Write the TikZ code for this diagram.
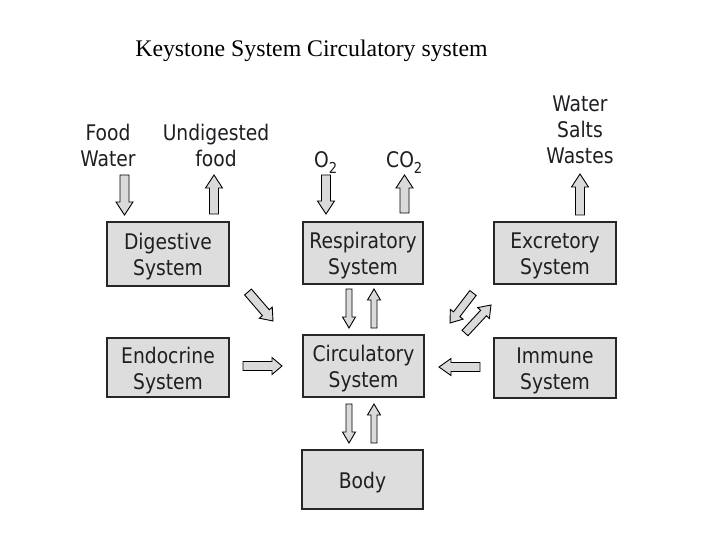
\documentclass[tikz,border=0pt]{standalone}
\usepackage{fontspec}
\setmainfont{Liberation Serif}
\newfontfamily\diafont[FakeStretch=0.87]{DejaVu Sans}
\usetikzlibrary{calc}
\definecolor{boxfill}{RGB}{221,221,221}
\definecolor{arrfill}{RGB}{218,218,218}
\definecolor{txt}{RGB}{30,30,35}
\newcommand{\tst}{\rule{0pt}{22pt}}
\newcommand{\blockarr}[5]{%
  \coordinate (bhd) at ($(#2)!#5!(#1)$);
  \draw[blk] ($(#1)!#3!90:(#2)$) -- ($(bhd)!#3!90:(#2)$) -- ($(bhd)!#4!90:(#2)$) -- (#2)
    -- ($(bhd)!#4!-90:(#2)$) -- ($(bhd)!#3!-90:(#2)$) -- ($(#1)!#3!-90:(#2)$) -- cycle;}
\begin{document}
\begin{tikzpicture}[x=1pt,y=-1pt,
  sysbox/.style={draw=black!85, line width=1.2pt, fill=boxfill, inner sep=0pt, align=center,
    text=txt, font=\diafont\fontsize{21.5}{26}\selectfont},
  lbl/.style={inner sep=0pt, align=center, text=txt, font=\diafont\fontsize{21.5}{26}\selectfont},
  blk/.style={draw=black, line width=0.9pt, fill=arrfill, line join=miter}]
\useasboundingbox (0,0) rectangle (720,540);
\fill[white] (0,0) rectangle (720,540);
% title
\node[anchor=base, inner sep=0pt, font=\fontsize{23.8}{28}\selectfont] (title) at (311.5,57) {Keystone System Circulatory system};
% boxes
\node[sysbox, minimum width=122pt, minimum height=64pt] (dig) at (168,254) {\tst Digestive\\System};
\node[sysbox, minimum width=120pt, minimum height=62pt] (resp) at (363,253) {\tst Respiratory\\System};
\node[sysbox, minimum width=122pt, minimum height=62pt] (exc) at (555,253) {\tst Excretory\\System};
\node[sysbox, minimum width=122pt, minimum height=59pt] (endo) at (168,367.5) {\tst Endocrine\\System};
\node[sysbox, minimum width=121pt, minimum height=62pt] (circ) at (363.5,366) {\tst Circulatory\\System};
\node[sysbox, minimum width=122pt, minimum height=60pt] (imm) at (555,368) {\tst Immune\\System};
\node[sysbox, minimum width=121pt, minimum height=59pt] (body) at (362.5,479.5) {\tst Body};
% labels
\node[lbl] (fw) at (108,145) {Food\\Water};
\node[lbl] (ud) at (216,145) {Undigested\\food};
\node[lbl, anchor=base] (o2) at (326,168) {O\raisebox{-1.5pt}{\textsubscript{2}}};
\node[lbl, anchor=base] (co2) at (404.5,168) {CO\raisebox{-1.5pt}{\textsubscript{2}}};
\node[lbl] (sw) at (580,130) {Water\\Salts\\Wastes};
% arrow end points
\coordinate (fwS) at (124.5,175);  \coordinate (fwE) at (124.5,215);
\coordinate (udS) at (214,214);    \coordinate (udE) at (214,175);
\coordinate (o2S) at (326,175);    \coordinate (o2E) at (326,214);
\coordinate (co2S) at (404.5,213); \coordinate (co2E) at (404.5,175);
\coordinate (exS) at (580,215);    \coordinate (exE) at (580,174);
\coordinate (dcS) at (248,292);    \coordinate (dcE) at (273,321);
\coordinate (rcS) at (349,289);    \coordinate (rcE) at (349,328);
\coordinate (crS) at (374,328);    \coordinate (crE) at (374,289);
\coordinate (ecS) at (473,293);    \coordinate (ecE) at (450,323);
\coordinate (ceS) at (465,333);    \coordinate (ceE) at (491,305);
\coordinate (enS) at (243,366);    \coordinate (enE) at (282,366);
\coordinate (imS) at (480,367);    \coordinate (imE) at (439,367);
\coordinate (cbS) at (349,404);    \coordinate (cbE) at (349,443);
\coordinate (bcS) at (374,443);    \coordinate (bcE) at (374,404);
% arrows
\blockarr{fwS}{fwE}{4.5pt}{8.5pt}{13pt}
\blockarr{udS}{udE}{4.5pt}{8.5pt}{13pt}
\blockarr{o2S}{o2E}{4.5pt}{8.5pt}{13pt}
\blockarr{co2S}{co2E}{4.5pt}{8.5pt}{13pt}
\blockarr{exS}{exE}{4.5pt}{8.5pt}{13pt}
\blockarr{dcS}{dcE}{4.5pt}{8.5pt}{11pt}
\blockarr{rcS}{rcE}{3pt}{6.5pt}{11pt}
\blockarr{crS}{crE}{3pt}{6.5pt}{11pt}
\blockarr{ecS}{ecE}{4pt}{8pt}{11pt}
\blockarr{ceS}{ceE}{4pt}{8pt}{11pt}
\blockarr{enS}{enE}{4.5pt}{8.5pt}{10pt}
\blockarr{imS}{imE}{4.5pt}{8.5pt}{12pt}
\blockarr{cbS}{cbE}{3pt}{6.5pt}{11pt}
\blockarr{bcS}{bcE}{3pt}{6.5pt}{11pt}
\end{tikzpicture}
\end{document}
